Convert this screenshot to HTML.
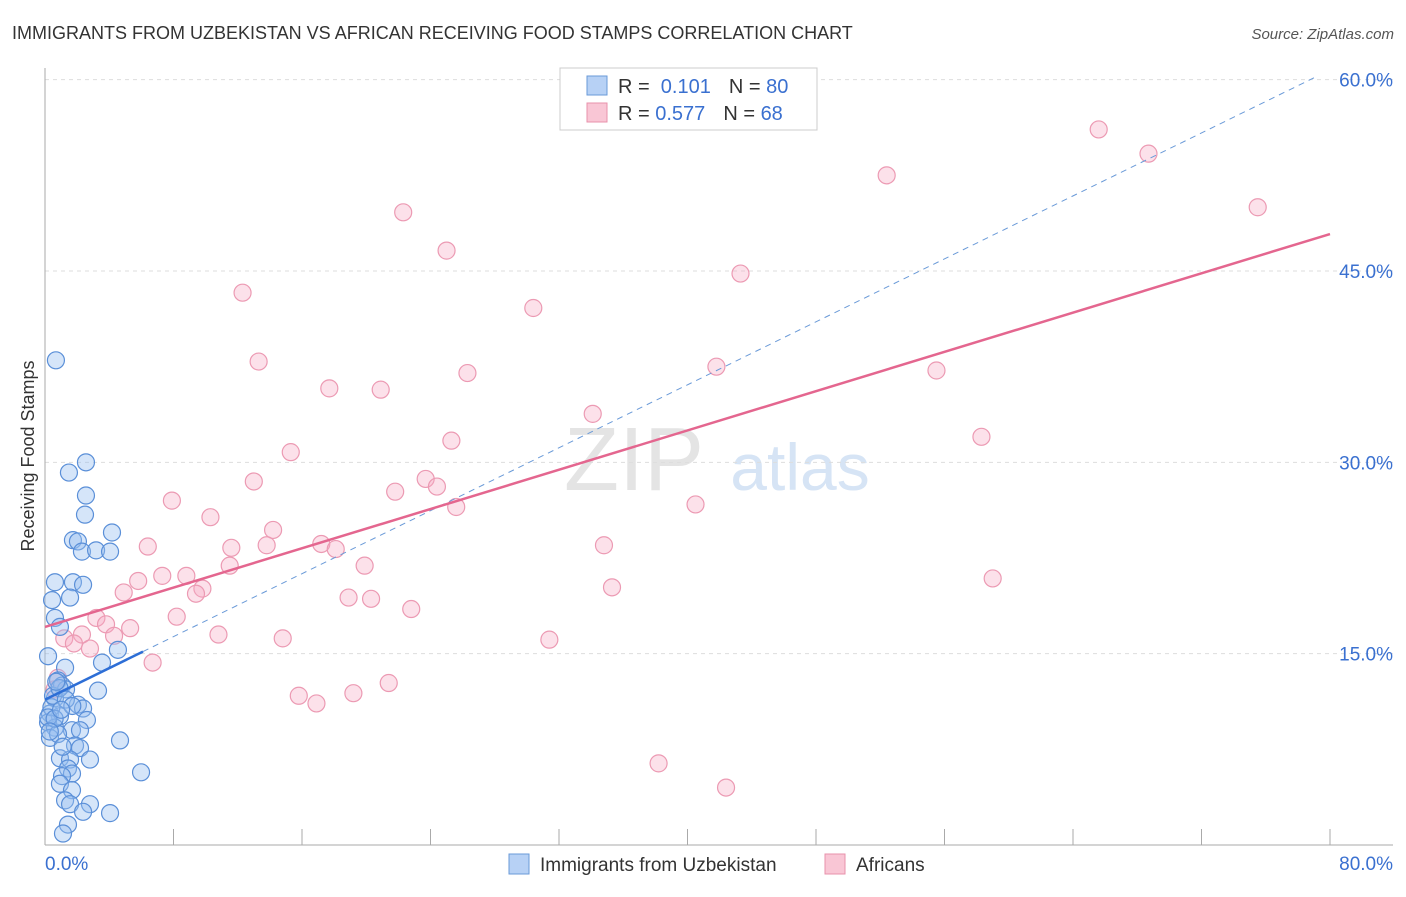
<!DOCTYPE html>
<html><head><meta charset="utf-8"><style>
body{margin:0;background:#fff;font-family:"Liberation Sans",sans-serif;}
svg text{font-family:"Liberation Sans",sans-serif;}
</style></head><body>
<svg id="c" width="1406" height="892">
<text x="12" y="39" font-size="18" fill="#333">IMMIGRANTS FROM UZBEKISTAN VS AFRICAN RECEIVING FOOD STAMPS CORRELATION CHART</text>
<text x="1394" y="39" font-size="15" fill="#555" font-style="italic" text-anchor="end">Source: ZipAtlas.com</text>
<text x="0" y="0" transform="translate(34,456) rotate(-90)" font-size="18" fill="#333" text-anchor="middle">Receiving Food Stamps</text>
<text x="634" y="490" font-size="90" fill="#e4e4e4" font-family="Liberation Serif" text-anchor="middle">ZIP</text>
<text x="800" y="490" font-size="66" fill="#d6e4f5" text-anchor="middle">atlas</text>
<g id="grid"></g><g id="axes"></g><g id="pts"></g><g id="lines"></g>
<g>
<rect x="560" y="68" width="257" height="62" fill="#fff" stroke="#ccc"/>
<rect x="587" y="76" width="20" height="19" fill="#b7d1f5" stroke="#6a9ad8"/>
<rect x="587" y="103" width="20" height="19" fill="#f9c6d5" stroke="#e891ab"/>
<text x="618" y="93" font-size="20" fill="#333">R = <tspan fill="#3a70d0">&#160;0.101</tspan><tspan dx="18">N = </tspan><tspan fill="#3a70d0">80</tspan></text>
<text x="618" y="120" font-size="20" fill="#333">R = <tspan fill="#3a70d0">0.577</tspan><tspan dx="18">N = </tspan><tspan fill="#3a70d0">68</tspan></text>
</g>
<g>
<rect x="509" y="854" width="20" height="20" fill="#b7d1f5" stroke="#6a9ad8"/>
<text x="540" y="871" font-size="19" fill="#333">Immigrants from Uzbekistan</text>
<rect x="825" y="854" width="20" height="20" fill="#f9c6d5" stroke="#e891ab"/>
<text x="856" y="871" font-size="19" fill="#333">Africans</text>
</g>
</svg>
<script>
const blueX=[0.68,2.55,1.49,2.55,2.49,4.17,1.74,2.05,2.30,3.18,4.05,0.62,1.74,2.37,0.44,1.56,0.62,0.93,0.19,1.25,3.55,4.54,0.81,1.06,1.31,3.30,0.62,2.05,2.37,0.31,0.93,2.61,0.19,0.62,1.68,2.18,0.31,0.81,4.67,1.87,2.18,0.93,1.56,2.80,1.43,1.68,1.06,5.98,0.93,1.68,1.25,1.56,2.80,2.37,4.05,1.43,1.12,0.4,0.5,0.9,1.3,1.7,0.2,0.6,1.0,0.3,1.1,0.7];
const blueY=[38.0,30.0,29.2,27.4,25.9,24.5,23.9,23.8,23.0,23.1,23.0,20.6,20.6,20.4,19.2,19.4,17.8,17.1,14.8,13.9,14.3,15.3,12.9,12.5,12.2,12.1,11.5,11.0,10.7,10.3,10.1,9.8,9.6,9.2,9.0,9.0,8.4,8.7,8.2,7.8,7.6,6.8,6.7,6.7,6.0,5.6,5.4,5.7,4.8,4.3,3.5,3.2,3.2,2.6,2.5,1.6,0.9,10.8,11.7,12.3,11.4,10.9,10.0,9.9,10.6,8.9,7.7,12.8];
const pinkX=[65.6,68.7,52.4,75.5,22.3,25.0,43.3,12.3,30.4,13.3,41.8,55.5,26.3,17.7,20.9,34.1,58.3,25.3,15.3,23.7,13.0,24.4,21.8,7.9,25.6,40.5,10.3,14.2,13.8,17.2,34.8,6.4,11.6,18.1,11.5,19.9,7.3,8.8,59.0,5.8,35.3,9.8,9.4,4.9,18.9,20.3,22.8,8.2,3.2,3.8,5.3,10.8,2.3,1.2,4.3,14.8,31.4,1.8,2.8,6.7,0.8,15.8,19.2,16.9,21.4,38.2,42.4,0.6];
const pinkY=[56.1,54.2,52.5,50.0,49.6,46.6,44.8,43.3,42.1,37.9,37.5,37.2,37.0,35.8,35.7,33.8,32.0,31.7,30.8,28.7,28.5,28.1,27.7,27.0,26.5,26.7,25.7,24.7,23.5,23.6,23.5,23.4,23.3,23.2,21.9,21.9,21.1,21.1,20.9,20.7,20.2,20.1,19.7,19.8,19.4,19.3,18.5,17.9,17.8,17.3,17.0,16.5,16.5,16.2,16.4,16.2,16.1,15.8,15.4,14.3,13.1,11.7,11.9,11.1,12.7,6.4,4.5,12.2];
const yTicks=[15,30,45,60];
const yTickLabels=["15.0%","30.0%","45.0%","60.0%"];
const xTicks=[8,16,24,32,40,48,56,64,72,80];
const pinkLine=[17.1,47.9]; // y at x=0 and x=80
const blueLine=[11.4,0.617,6.1,79]; // intercept, slope, solid end, dashed end
const sx=v=>45+v*1285/80, sy=v=>845-v*191.33/15;
const NS="http://www.w3.org/2000/svg";
function mk(t,a,p){const e=document.createElementNS(NS,t);for(const k in a)e.setAttribute(k,a[k]);p.appendChild(e);return e;}
const grid=document.getElementById('grid'),axes=document.getElementById('axes'),pts=document.getElementById('pts'),lines=document.getElementById('lines');
yTicks.forEach((v,i)=>{
 const l=mk('line',{x1:45,x2:1393,y1:sy(v),y2:sy(v),stroke:'#ddd','stroke-dasharray':'4,4'},grid);
 
 
 const t=mk('text',{x:1393,y:sy(v)+7,'font-size':19,fill:'#3a70d0','text-anchor':'end'},grid);
 t.textContent=yTickLabels[i];
 
 
});
const ya=mk('line',{x1:45,x2:45,y1:68,y2:845,stroke:'#aaa'},axes);


const xa=mk('line',{x1:45,x2:1393,y1:845,y2:845,stroke:'#aaa'},axes);


xTicks.forEach(v=>{
 const t=mk('line',{x1:sx(v),x2:sx(v),y1:829,y2:845,stroke:'#aaa'},axes);
 
 
});
[["0.0%",45,'start'],["80.0%",1393,'end']].forEach(a=>{
 const t=mk('text',{x:a[1],y:870,'font-size':19,fill:'#3a70d0','text-anchor':a[2]},axes);
 t.textContent=a[0];
 
 
});
pinkX.forEach((x,i)=>{
 const c=mk('circle',{cx:sx(x),cy:sy(pinkY[i]),r:8.5,fill:'rgba(245,170,195,0.35)',stroke:'#ec9ab3','stroke-width':1.2},pts);
 
 
});
blueX.forEach((x,i)=>{
 const c=mk('circle',{cx:sx(x),cy:sy(blueY[i]),r:8.5,fill:'rgba(150,190,240,0.4)',stroke:'#5a8fd8','stroke-width':1.2},pts);
 
 
});
const bd=mk('line',{x1:sx(blueLine[2]),y1:sy(blueLine[0]+blueLine[1]*blueLine[2]),x2:sx(blueLine[3]),y2:sy(blueLine[0]+blueLine[1]*blueLine[3]),stroke:'#6a9ad8','stroke-width':1,'stroke-dasharray':'6,5'},lines);


const bs=mk('line',{x1:sx(0),y1:sy(blueLine[0]),x2:sx(blueLine[2]),y2:sy(blueLine[0]+blueLine[1]*blueLine[2]),stroke:'#2d6ed6','stroke-width':2.5},lines);


const pl=mk('line',{x1:sx(0),y1:sy(pinkLine[0]),x2:sx(80),y2:sy(pinkLine[1]),stroke:'#e4668f','stroke-width':2.5},lines);


</script>
</body></html>
